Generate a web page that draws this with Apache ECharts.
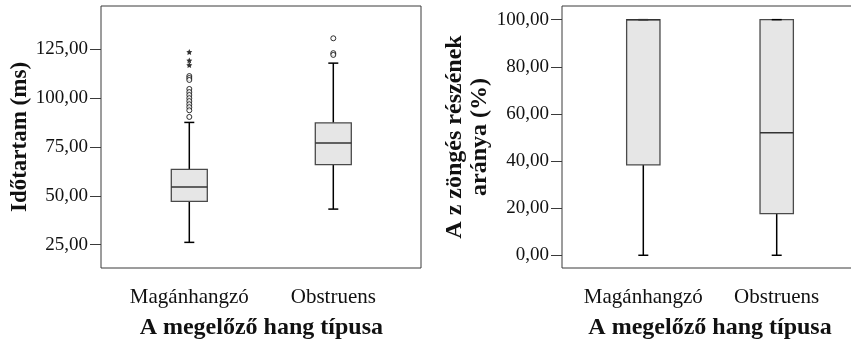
<!DOCTYPE html>
<html>
<head>
<meta charset="utf-8">
<script src="https://cdn.jsdelivr.net/npm/echarts@6/dist/echarts.min.js"></script>
<style>
  html, body { margin: 0; padding: 0; background: #fff; }
  #main { width: 851px; height: 342px; }
</style>
</head>
<body>
<div id="main"></div>
<script>
// data
var categories = ['Magánhangzó', 'Obstruens'];

// [lower whisker, Q1, median, Q3, upper whisker]
var durationBoxes = [
  [26.2, 47.2, 54.5, 63.5, 87.5],
  [43.2, 65.9, 77.0, 87.3, 117.8]
];
var durationOutliers = [
  [0, 111.2], [0, 110.2], [0, 109.2],
  [0, 104.6], [0, 103.0], [0, 101.5], [0, 99.9], [0, 98.4], [0, 96.8], [0, 95.3], [0, 93.7],
  [0, 90.3],
  [1, 130.5], [1, 122.9], [1, 122.0]
];
var durationExtremes = [[0, 123.5], [0, 119.2], [0, 116.8]];
var durationTicks = [25, 50, 75, 100, 125];

var voicingBoxes = [
  [0, 38.4, 100, 100, 100],
  [0, 17.7, 52.0, 100, 100]
];
var voicingTicks = [0, 20, 40, 60, 80, 100];

var serif = 'Liberation Serif';
var dark = '#3a3a3a';

function fmt(v) { return v.toFixed(2).replace('.', ','); }

function boxData(boxes) {
  return boxes.map(function (b, i) { return [i].concat(b); });
}

function renderBox(params, api) {
  var x = api.value(0);
  var lo = api.coord([x, api.value(1)]);
  var q1 = api.coord([x, api.value(2)]);
  var md = api.coord([x, api.value(3)]);
  var q3 = api.coord([x, api.value(4)]);
  var hi = api.coord([x, api.value(5)]);
  var cx = lo[0];
  var bw = api.size([1, 0])[0] * 0.25;
  var cap = 5;
  var whisker = { stroke: '#000', lineWidth: 1.5 };
  return {
    type: 'group',
    children: [
      { type: 'line', shape: { x1: cx, y1: hi[1], x2: cx, y2: q3[1] }, style: whisker },
      { type: 'line', shape: { x1: cx, y1: q1[1], x2: cx, y2: lo[1] }, style: whisker },
      { type: 'rect', shape: { x: cx - bw / 2, y: q3[1], width: bw, height: q1[1] - q3[1] },
        style: { fill: '#e6e6e6', stroke: '#4a4a4a', lineWidth: 1.3 } },
      { type: 'line', shape: { x1: cx - cap, y1: hi[1], x2: cx + cap, y2: hi[1] }, style: whisker },
      { type: 'line', shape: { x1: cx - cap, y1: lo[1], x2: cx + cap, y2: lo[1] }, style: whisker },
      { type: 'line', shape: { x1: cx - bw / 2, y1: md[1], x2: cx + bw / 2, y2: md[1] },
        style: { stroke: '#333', lineWidth: 1.5 } }
    ]
  };
}

var titleStyle = { fontFamily: serif, fontSize: 23, fontWeight: 'bold', color: '#111' };

function valueAxis(grid, min, max, ticks, name, gap, visible) {
  if (!visible) {
    return { type: 'value', gridIndex: grid, min: min, max: max, show: false };
  }
  return {
    type: 'value', gridIndex: grid, min: min, max: max,
    name: name, nameLocation: 'middle', nameRotate: 90, nameGap: gap,
    nameTextStyle: titleStyle,
    axisLine: { show: false },
    splitLine: { show: false },
    axisTick: { show: true, length: 11, customValues: ticks, lineStyle: { color: dark } },
    axisLabel: {
      margin: 13, customValues: ticks, formatter: fmt,
      fontFamily: serif, fontSize: 19, color: '#111'
    }
  };
}

function catAxis(grid) {
  return {
    type: 'category', gridIndex: grid, data: categories,
    name: 'A megelőző hang típusa', nameLocation: 'middle', nameGap: 48,
    nameTextStyle: Object.assign({}, titleStyle, { fontSize: 24 }),
    axisLine: { show: false },
    axisTick: { alignWithLabel: true, length: 14, lineStyle: { color: dark } },
    axisLabel: { interval: 0, margin: 19, fontFamily: serif, fontSize: 21, color: '#111' }
  };
}

function grid(left, width, frame) {
  var g = { left: left, top: 6, width: width, height: 262, outerBoundsMode: 'none', containLabel: false };
  if (frame) {
    g.show = true;
    g.borderColor = dark;
    g.borderWidth = 1;
  }
  return g;
}

var option = {
  animation: false,
  backgroundColor: '#fff',
  textStyle: { fontFamily: serif },
  grid: [
    grid(101, 320, true),
    grid(117.3, 288, false),
    grid(562, 300, true),
    grid(576.6, 266.8, false)
  ],
  xAxis: [
    { type: 'value', gridIndex: 0, show: false },
    catAxis(1),
    { type: 'value', gridIndex: 2, show: false },
    catAxis(3)
  ],
  yAxis: [
    valueAxis(0, 13.1, 147, durationTicks, 'Időtartam (ms)', 66, true),
    valueAxis(1, 13.1, 147, durationTicks, '', 0, false),
    Object.assign(valueAxis(2, -5.4, 105.8, voicingTicks, 'A z zöngés részének\naránya (%)', 70, true),
      { nameTextStyle: Object.assign({ lineHeight: 25 }, titleStyle, { fontSize: 24 }) }),
    valueAxis(3, -5.4, 105.8, voicingTicks, '', 0, false)
  ],
  series: [
    { type: 'custom', xAxisIndex: 1, yAxisIndex: 1, renderItem: renderBox,
      encode: { x: 0, y: [1, 2, 3, 4, 5] }, data: boxData(durationBoxes) },
    { type: 'scatter', xAxisIndex: 1, yAxisIndex: 1, symbol: 'circle', symbolSize: 5,
      itemStyle: { color: '#fff', borderColor: '#000', borderWidth: 1 }, data: durationOutliers },
    { type: 'scatter', xAxisIndex: 1, yAxisIndex: 1,
      symbol: 'path://M0,-10 L2.9,-4 9.5,-3.1 4.7,1.5 5.9,8.1 0,5 -5.9,8.1 -4.7,1.5 -9.5,-3.1 -2.9,-4 Z',
      symbolSize: 6, itemStyle: { color: '#000' }, data: durationExtremes },
    { type: 'custom', xAxisIndex: 3, yAxisIndex: 3, renderItem: renderBox,
      encode: { x: 0, y: [1, 2, 3, 4, 5] }, data: boxData(voicingBoxes) }
  ]
};

var chart = echarts.init(document.getElementById('main'));
chart.setOption(option);
</script>
</body>
</html>
